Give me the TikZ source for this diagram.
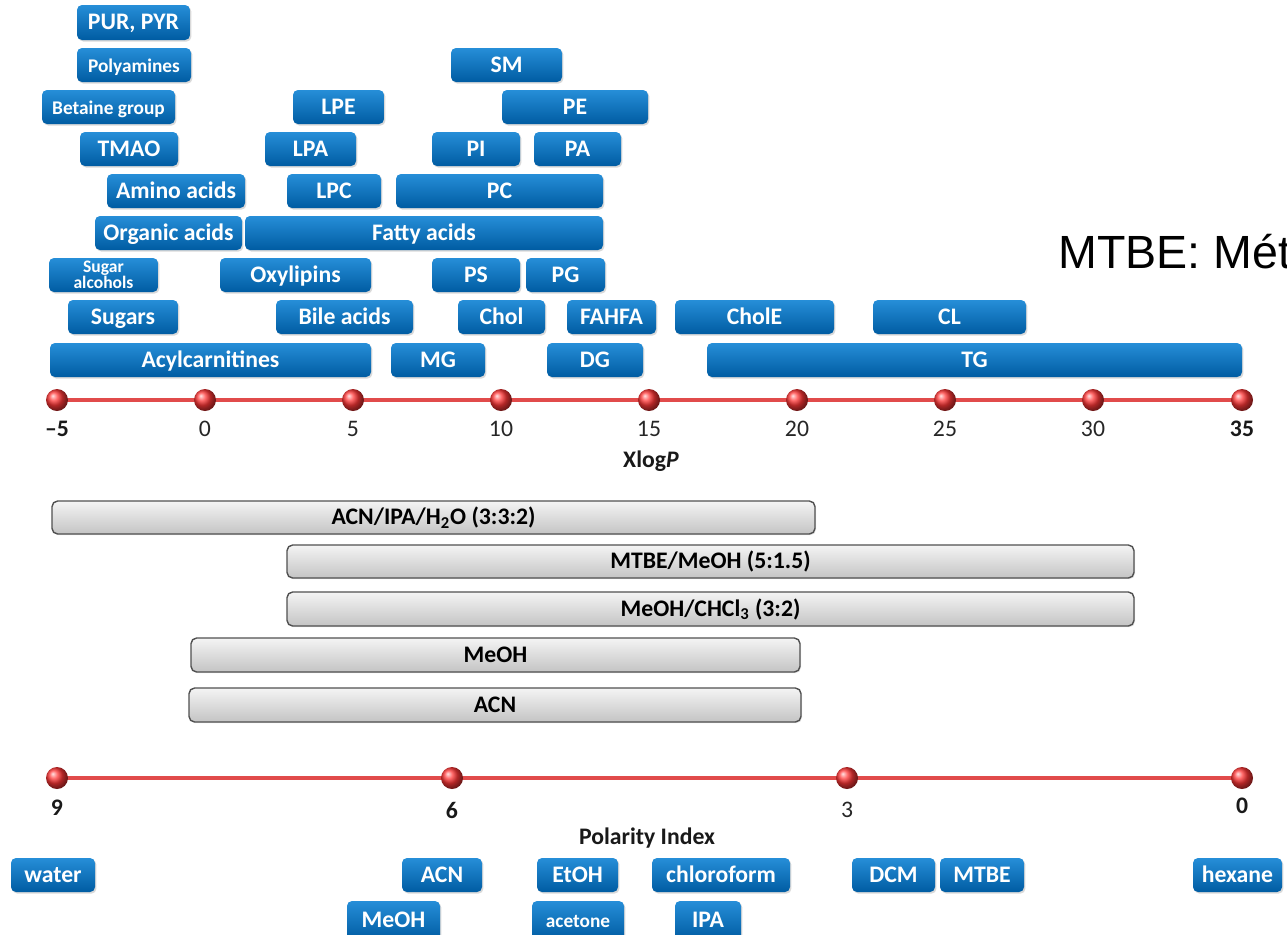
\documentclass[tikz,border=0pt]{standalone}
\usepackage{fontspec}
\setmainfont{Carlito}
\newfontfamily\arialf{Liberation Sans}
\usetikzlibrary{shadows,backgrounds}
\definecolor{bluetop}{RGB}{38,142,216}
\definecolor{bluebot}{RGB}{0,92,162}
\definecolor{graytop}{RGB}{244,244,244}
\definecolor{graybot}{RGB}{196,196,196}
\definecolor{grayline}{RGB}{80,80,80}
\definecolor{ballred}{RGB}{255,55,55}
\definecolor{axred}{RGB}{225,75,75}
\newcommand\bb[7][]{\node[bluebox,#1,minimum width={(#5-#3)*0.02cm},minimum height={(#6-#4)*0.02cm}] (#2) at ({(#3+#5)/2},{(#4+#6)/2}) {#7};}
\newcommand\gbar[6]{\node[graybox,minimum width={(#4-#2)*0.02cm},minimum height={(#5-#3)*0.02cm}] (#1) at ({(#2+#4)/2},{(#3+#5)/2}) {#6};}
\begin{document}
\begin{tikzpicture}[x=0.02cm,y=-0.02cm,
  bluebox/.style={rounded corners=2.8pt,top color=bluetop,bottom color=bluebot,text=white,
    font=\bfseries\fontsize{13.5}{15}\selectfont,inner sep=0pt,align=center,
    text height=1.0em,text depth=0.2em,
    drop shadow={opacity=0.3,shadow xshift=0.8pt,shadow yshift=-0.9pt}},
  smalltxt/.style={font=\bfseries\fontsize{11}{12}\selectfont},
  tinytxt/.style={font=\bfseries\fontsize{10}{8.8}\selectfont,text height=,text depth=},
  graybox/.style={rounded corners=3.2pt,top color=graytop,bottom color=graybot,draw=grayline,
    line width=0.8pt,font=\bfseries\fontsize{13.5}{15}\selectfont,inner sep=0pt,
    text height=1.0em,text depth=0.2em,
    drop shadow={opacity=0.2,shadow xshift=0.6pt,shadow yshift=-0.7pt}},
  dot/.style={circle,shading=ball,ball color=ballred,minimum size=0.44cm,inner sep=0pt},
  axisline/.style={line width=1.9pt,draw=axred},
  lab/.style={font=\fontsize{13.5}{15}\selectfont,text=black!85,inner sep=0pt},
  blab/.style={font=\bfseries\fontsize{13.5}{15}\selectfont,text=black!90,inner sep=0pt}]
\useasboundingbox (0,0) rectangle (1287,934);
\clip (0,0) rectangle (1287,934);

% ---- lipid / metabolite classes ----
\bb{pur}{77}{5}{190}{40}{PUR, PYR}
\bb[smalltxt]{poly}{77}{48}{191}{82}{Polyamines}
\bb[smalltxt]{bet}{42}{90}{175}{124}{Betaine group}
\bb{tmao}{80}{132}{178}{166}{TMAO}
\bb{amino}{107}{174}{245}{208}{Amino acids}
\bb{org}{95}{216}{242}{250}{Organic acids}
\bb{fatty}{245}{216}{603}{250}{Fatty acids}
\bb{lpe}{293}{90}{384}{124}{LPE}
\bb{lpa}{265}{132}{356}{166}{LPA}
\bb{lpc}{287}{174}{381}{208}{LPC}
\bb{sm}{451}{48}{562}{82}{SM}
\bb{pe}{502}{90}{648}{124}{PE}
\bb{pi}{432}{132}{520}{166}{PI}
\bb{pa}{534}{132}{621}{166}{PA}
\bb{pc}{396}{174}{603}{208}{PC}
\bb{ps}{432}{258}{520}{292}{PS}
\bb{pg}{526}{258}{605}{292}{PG}
\bb[tinytxt]{sugalc}{49}{258}{158}{292}{Sugar\\alcohols}
\bb{oxy}{220}{258}{371}{292}{Oxylipins}
\bb{sugars}{68}{300}{178}{334}{Sugars}
\bb{bile}{276}{300}{413}{334}{Bile acids}
\bb{chol}{458}{300}{545}{334}{Chol}
\bb{fahfa}{567}{300}{656}{334}{FAHFA}
\bb{chole}{675}{300}{834}{334}{CholE}
\bb{cl}{873}{300}{1026}{334}{CL}
\bb{acyl}{50}{343}{371}{377}{Acylcarnitines}
\bb{mg}{391}{343}{485}{377}{MG}
\bb{dg}{547}{343}{643}{377}{DG}
\bb{tg}{707}{343}{1242}{377}{TG}

% ---- XlogP axis ----
\foreach \i/\x in {1/57,2/205,3/353,4/501,5/649,6/797,7/945,8/1093,9/1242}
  \node[dot] (a\i) at (\x,400) {};
\begin{pgfonlayer}{background}
  \draw[axisline] (a1.center) -- (a9.center);
\end{pgfonlayer}
\node[blab] (t1) at (57,429) {–5};
\node[lab] (t2) at (205,429) {0};
\node[lab] (t3) at (353,429) {5};
\node[lab] (t4) at (501,429) {10};
\node[lab] (t5) at (649,429) {15};
\node[lab] (t6) at (797,429) {20};
\node[lab] (t7) at (945,429) {25};
\node[lab] (t8) at (1093,429) {30};
\node[blab] (t9) at (1242,429) {35};
\node[blab] (xlogp) at (651,461) {Xlog\textit{P}};

\node[font=\arialf\fontsize{26.5}{30}\selectfont,anchor=base west,inner sep=0pt] (mtbe) at (1058,268) {MTBE: Mét};

% ---- solvent bars ----
\gbar{s1}{52}{501}{815}{534}{ACN/IPA/H\textsubscript{2}O (3:3:2)}
\gbar{s2}{287}{545}{1134}{578}{MTBE/MeOH (5:1.5)}
\gbar{s3}{287}{592}{1134}{626}{MeOH/CHCl\textsubscript{3} (3:2)}
\gbar{s4}{191}{638}{800}{672}{MeOH}
\gbar{s5}{189}{688}{801}{722}{ACN}

% ---- Polarity axis ----
\node[dot] (p9) at (57,778) {};
\node[dot] (p6) at (452,778) {};
\node[dot] (p3) at (847,778) {};
\node[dot] (p0) at (1242,778) {};
\begin{pgfonlayer}{background}
  \draw[axisline] (p9.center) -- (p0.center);
\end{pgfonlayer}
\node[blab] (q9) at (57,808) {9};
\node[blab] (q6) at (452,810) {6};
\node[lab] (q3) at (847,810) {3};
\node[blab] (q0) at (1242,806) {0};
\node[blab] (polidx) at (647,838) {Polarity Index};

% ---- solvents ----
\bb{water}{11}{858}{95}{892}{water}
\bb{acn}{402}{858}{482}{892}{ACN}
\bb{meoh}{347}{901}{440}{940}{MeOH}
\bb{etoh}{537}{858}{618}{892}{EtOH}
\bb[smalltxt]{acetone}{532}{901}{624}{940}{acetone}
\bb{chloro}{652}{858}{790}{892}{chloroform}
\bb{ipa}{675}{901}{741}{940}{IPA}
\bb{dcm}{852}{858}{935}{892}{DCM}
\bb{mtbes}{940}{858}{1024}{892}{MTBE}
\bb{hexane}{1193}{858}{1282}{892}{hexane}
\end{tikzpicture}
\end{document}
